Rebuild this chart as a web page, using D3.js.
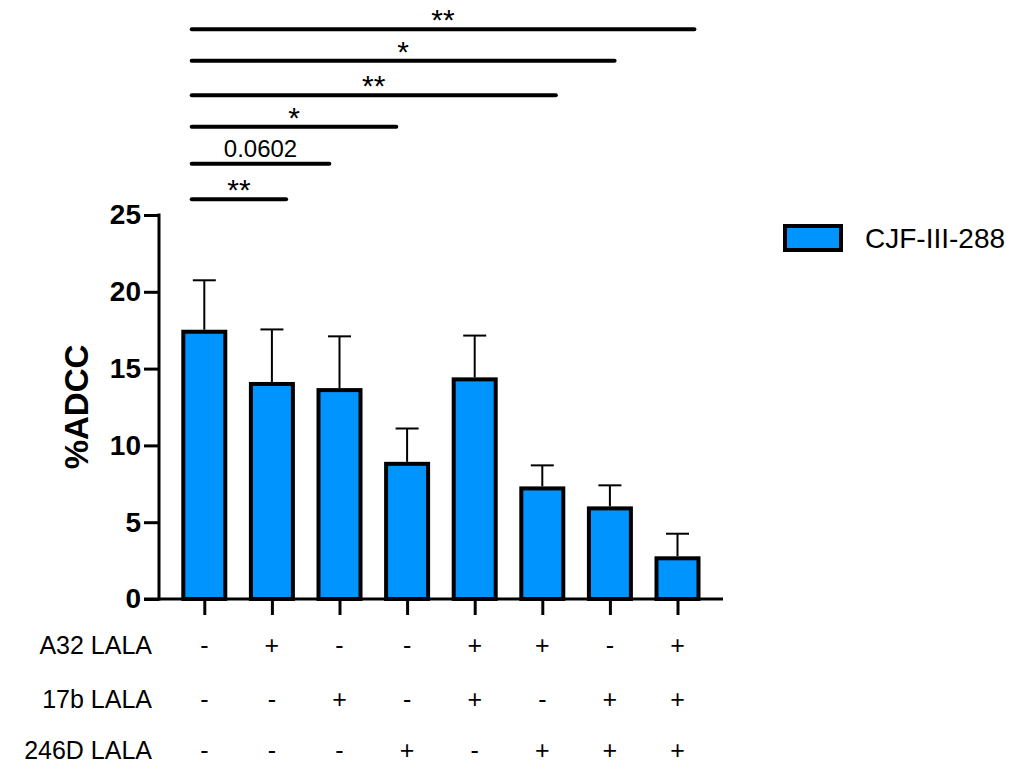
<!DOCTYPE html>
<html>
<head>
<meta charset="utf-8">
<script src="https://cdn.jsdelivr.net/npm/d3@7"></script>
<style>
  html, body { margin: 0; padding: 0; background: #fff; }
  svg { display: block; font-family: Arial, "Liberation Sans", Helvetica, sans-serif; }
</style>
</head>
<body>
<svg id="chart" width="1032" height="770"></svg>
<script>
// ---- data ----
const groups = [0, 1, 2, 3, 4, 5, 6, 7];
const means = [17.4, 14.0, 13.6, 8.8, 14.3, 7.2, 5.9, 2.65];
const errors = [3.35, 3.55, 3.5, 2.3, 2.85, 1.5, 1.5, 1.6];
const rowLabels = ["A32 LALA", "17b LALA", "246D LALA"];
const rowA32 = ["-", "+", "-", "-", "+", "+", "-", "+"];
const row17b = ["-", "-", "+", "-", "+", "-", "+", "+"];
const row246D = ["-", "-", "-", "+", "-", "+", "+", "+"];
const yTicks = [0, 5, 10, 15, 20, 25];
const sigFrom = [0, 0, 0, 0, 0, 0];
const sigTo = [1, 2, 3, 5, 6, 7];
const sigLabels = ["**", "0.0602", "*", "**", "*", "**"];
const sigEndShift = [0.21, -0.15, -0.16, 0.2, 0.07, 0.25]; // in category units
const seriesName = "CJF-III-288";
const yTitle = "%ADCC";

// ---- layout ----
const fill = "#0094ff";
const svg = d3.select("#chart");
const x = d3.scalePoint().domain(groups).range([204.3, 677.5]);
const step = x.step();
const y = d3.scaleLinear().domain([0, 25]).range([599, 215]);
const barW = 42;
const axisX = 159;

// bars
svg.append("g").selectAll("rect").data(groups).join("rect")
  .attr("x", d => x(d) - barW / 2)
  .attr("y", d => y(means[d]))
  .attr("width", barW)
  .attr("height", d => y(0) - y(means[d]))
  .attr("fill", fill)
  .attr("stroke", "#000")
  .attr("stroke-width", 4);

// error bars (upper only)
const eb = svg.append("g").attr("stroke", "#000").attr("stroke-width", 2);
groups.forEach(d => {
  const top = y(means[d] + errors[d]);
  eb.append("line").attr("x1", x(d)).attr("x2", x(d)).attr("y1", y(means[d]) - 2).attr("y2", top);
  eb.append("line").attr("x1", x(d) - 11.5).attr("x2", x(d) + 11.5).attr("y1", top).attr("y2", top);
});

// y axis
const yAxis = d3.axisLeft(y).tickValues(yTicks).tickSize(15).tickPadding(3);
const yg = svg.append("g").attr("transform", `translate(${axisX},0)`).call(yAxis);
yg.select(".domain").attr("stroke-width", 3).attr("d", `M0,${y(25)-1.5}V${y(0)+1.5}`);
yg.selectAll(".tick line").attr("stroke-width", 3);
yg.selectAll(".tick text").attr("font-size", 28).attr("font-weight", "bold")
  .attr("font-family", "Arial, 'Liberation Sans', sans-serif").attr("fill", "#000");

// x axis
const xAxis = d3.axisBottom(x).tickSize(16).tickFormat("");
const xg = svg.append("g").attr("transform", `translate(0,${y(0)})`).call(xAxis);
xg.select(".domain").attr("stroke-width", 3).attr("d", `M${axisX - 15},0H723`);
xg.selectAll(".tick line").attr("stroke-width", 3);

// y title
svg.append("text")
  .attr("transform", `translate(88,407) rotate(-90)`)
  .attr("text-anchor", "middle")
  .attr("font-size", 33).attr("font-weight", "bold")
  .text(yTitle);

// significance brackets
const levelsY = [199.3, 163.7, 126.7, 95.3, 60.7, 29.3];
const sg = svg.append("g");
sigLabels.forEach((lab, i) => {
  const x1 = x(sigFrom[i]) - 12.6;
  const x2 = x(sigTo[i]) + sigEndShift[i] * step;
  sg.append("line").attr("x1", x1).attr("x2", x2)
    .attr("y1", levelsY[i]).attr("y2", levelsY[i])
    .attr("stroke", "#000").attr("stroke-width", 4).attr("stroke-linecap", "round");
  const isNum = !lab.includes("*");
  sg.append("text")
    .attr("x", (x1 + x2) / 2)
    .attr("y", levelsY[i] - (isNum ? 7 : -1))
    .attr("text-anchor", "middle")
    .attr("font-size", isNum ? 24 : 30)
    .text(lab);
});

// condition table
const rows = [rowA32, row17b, row246D];
const rowY = [654, 708, 759];
const tg = svg.append("g").attr("font-size", 25).attr("fill", "#000");
rows.forEach((r, i) => {
  tg.append("text").attr("x", 152).attr("y", rowY[i]).attr("text-anchor", "end")
    .text(rowLabels[i]);
  groups.forEach(g => {
    tg.append("text").attr("x", x(g)).attr("y", rowY[i]).attr("text-anchor", "middle").text(r[g]);
  });
});

// legend
const lg = svg.append("g");
lg.append("rect").attr("x", 785).attr("y", 226).attr("width", 56).attr("height", 24)
  .attr("fill", fill).attr("stroke", "#000").attr("stroke-width", 4);
lg.append("text").attr("x", 865).attr("y", 248).attr("font-size", 28).text(seriesName);
</script>
</body>
</html>
